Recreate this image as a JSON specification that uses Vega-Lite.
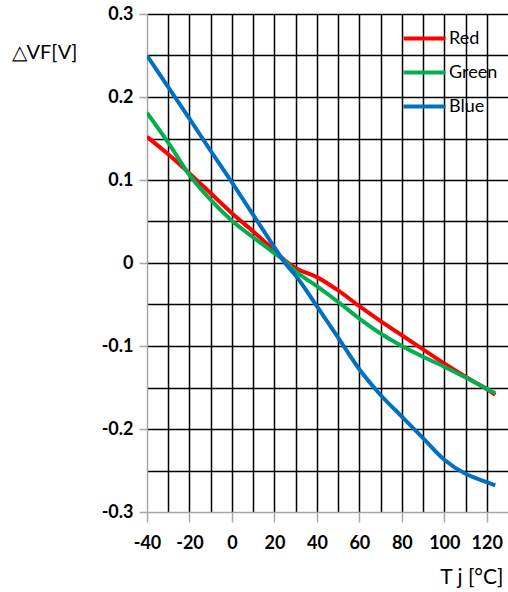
{
  "$schema": "https://vega.github.io/schema/vega-lite/v6.json",
  "autosize": "none",
  "padding": {"left": 147, "top": 14, "right": 0, "bottom": 80},
  "width": 361,
  "height": 498,
  "background": "white",
  "config": {
    "view": {"stroke": null},
    "font": "Lato"
  },
  "data": {
    "values": [
      {"T": -40, "v": 0.152, "c": "Red"},
      {"T": -30, "v": 0.131, "c": "Red"},
      {"T": -20, "v": 0.108, "c": "Red"},
      {"T": -10, "v": 0.084, "c": "Red"},
      {"T": 0, "v": 0.06, "c": "Red"},
      {"T": 10, "v": 0.038, "c": "Red"},
      {"T": 20, "v": 0.015, "c": "Red"},
      {"T": 25, "v": 0.003, "c": "Red"},
      {"T": 30, "v": -0.006, "c": "Red"},
      {"T": 40, "v": -0.017, "c": "Red"},
      {"T": 50, "v": -0.033, "c": "Red"},
      {"T": 60, "v": -0.052, "c": "Red"},
      {"T": 70, "v": -0.07, "c": "Red"},
      {"T": 80, "v": -0.087, "c": "Red"},
      {"T": 90, "v": -0.104, "c": "Red"},
      {"T": 100, "v": -0.121, "c": "Red"},
      {"T": 110, "v": -0.137, "c": "Red"},
      {"T": 120, "v": -0.152, "c": "Red"},
      {"T": 124, "v": -0.159, "c": "Red"},
      {"T": -40, "v": 0.181, "c": "Green"},
      {"T": -30, "v": 0.145, "c": "Green"},
      {"T": -20, "v": 0.106, "c": "Green"},
      {"T": -10, "v": 0.076, "c": "Green"},
      {"T": 0, "v": 0.051, "c": "Green"},
      {"T": 10, "v": 0.031, "c": "Green"},
      {"T": 20, "v": 0.012, "c": "Green"},
      {"T": 25, "v": 0.002, "c": "Green"},
      {"T": 30, "v": -0.01, "c": "Green"},
      {"T": 40, "v": -0.028, "c": "Green"},
      {"T": 50, "v": -0.047, "c": "Green"},
      {"T": 60, "v": -0.067, "c": "Green"},
      {"T": 70, "v": -0.085, "c": "Green"},
      {"T": 80, "v": -0.1, "c": "Green"},
      {"T": 90, "v": -0.113, "c": "Green"},
      {"T": 100, "v": -0.125, "c": "Green"},
      {"T": 110, "v": -0.138, "c": "Green"},
      {"T": 124, "v": -0.157, "c": "Green"},
      {"T": -40, "v": 0.25, "c": "Blue"},
      {"T": -30, "v": 0.212, "c": "Blue"},
      {"T": -20, "v": 0.174, "c": "Blue"},
      {"T": -10, "v": 0.135, "c": "Blue"},
      {"T": 0, "v": 0.097, "c": "Blue"},
      {"T": 10, "v": 0.058, "c": "Blue"},
      {"T": 20, "v": 0.019, "c": "Blue"},
      {"T": 25, "v": 0, "c": "Blue"},
      {"T": 30, "v": -0.015, "c": "Blue"},
      {"T": 40, "v": -0.052, "c": "Blue"},
      {"T": 50, "v": -0.09, "c": "Blue"},
      {"T": 60, "v": -0.128, "c": "Blue"},
      {"T": 70, "v": -0.159, "c": "Blue"},
      {"T": 80, "v": -0.185, "c": "Blue"},
      {"T": 90, "v": -0.211, "c": "Blue"},
      {"T": 100, "v": -0.237, "c": "Blue"},
      {"T": 110, "v": -0.254, "c": "Blue"},
      {"T": 120, "v": -0.264, "c": "Blue"},
      {"T": 124, "v": -0.268, "c": "Blue"}
    ]
  },
  "mark": {"type": "line", "interpolate": "monotone", "strokeWidth": 4, "clip": true},
  "encoding": {
    "x": {
      "field": "T",
      "type": "quantitative",
      "scale": {"domain": [-40, 130], "nice": false, "zero": false},
      "axis": {
        "values": [-40, -30, -20, -10, 0, 10, 20, 30, 40, 50, 60, 70, 80, 90, 100, 110, 120],
        "labelExpr": "datum.value % 20 === 0 ? '' + datum.value : ''",
        "labelFont": "Lato",
        "labelFontWeight": "bold",
        "labelFontSize": 18,
        "labelColor": "black",
        "labelPadding": 12,
        "labelFlush": false,
        "labelOverlap": false,
        "tickSize": 10,
        "tickWidth": 1.5,
        "tickColor": "#a6a6a6",
        "tickOpacity": {"condition": {"test": "datum.value % 20 !== 0", "value": 0}, "value": 1},
        "domainColor": "#a6a6a6",
        "domainWidth": 1.5,
        "grid": true,
        "gridColor": "black",
        "gridWidth": 1.5,
        "gridOpacity": {"condition": {"test": "datum.value === -40", "value": 0}, "value": 1},
        "title": "T j [°C]",
        "titleFont": "Lato",
        "titleFontWeight": "normal",
        "titleFontSize": 21,
        "titleColor": "black",
        "titleAnchor": "end",
        "titleAlign": "right",
        "titleBaseline": "middle",
        "titleX": 356,
        "titleY": 65
      }
    },
    "y": {
      "field": "v",
      "type": "quantitative",
      "scale": {"domain": [-0.3, 0.3], "nice": false, "zero": false},
      "axis": {
        "values": [-0.3, -0.25, -0.2, -0.15, -0.1, -0.05, 0, 0.05, 0.1, 0.15, 0.2, 0.25, 0.3],
        "labelExpr": "round(datum.value * 20) % 2 === 0 ? '' + round(datum.value * 10) / 10 : ''",
        "labelFont": "Lato",
        "labelFontWeight": "bold",
        "labelFontSize": 18,
        "labelColor": "black",
        "labelPadding": 6,
        "labelFlush": false,
        "labelOverlap": false,
        "tickSize": 8,
        "tickWidth": 1.5,
        "tickColor": "#a6a6a6",
        "tickOpacity": {"condition": {"test": "round(datum.value * 20) % 2 !== 0", "value": 0}, "value": 1},
        "domainColor": "#a6a6a6",
        "domainWidth": 1.5,
        "grid": true,
        "gridColor": "black",
        "gridWidth": 1.5,
        "gridOpacity": {"condition": {"test": "datum.value < -0.29", "value": 0}, "value": 1},
        "title": "△VF[V]",
        "titleFont": "Lato",
        "titleFontWeight": "normal",
        "titleFontSize": 20,
        "titleColor": "black",
        "titleAngle": 0,
        "titleAlign": "left",
        "titleBaseline": "middle",
        "titleX": -136,
        "titleY": 38
      }
    },
    "color": {
      "field": "c",
      "type": "nominal",
      "scale": {"domain": ["Red", "Green", "Blue"], "range": ["#ff0000", "#00b050", "#0070c0"]},
      "legend": {
        "title": null,
        "orient": "none",
        "legendX": 258,
        "legendY": 5,
        "symbolType": "M-1.2,0H1.2",
        "symbolSize": 1225,
        "symbolStrokeWidth": 4,
        "labelFont": "Lato",
        "labelFontSize": 18,
        "labelColor": "black",
        "labelOffset": 5,
        "rowPadding": 5,
        "padding": 0
      }
    }
  }
}
